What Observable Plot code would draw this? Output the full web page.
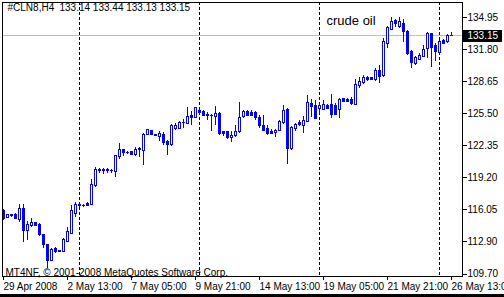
<!DOCTYPE html>
<html><head><meta charset="utf-8">
<script src="https://cdn.jsdelivr.net/npm/d3@7"></script>
<script src="https://cdn.jsdelivr.net/npm/@observablehq/plot@0.6"></script>
<style>html,body{margin:0;padding:0;background:#000;overflow:hidden}#chart svg{display:block}</style>
</head><body><div id="chart"></div><script>
const openP = [115.88,115.23,115.45,115.46,115.04,116.12,113.92,114.38,114.77,114.48,
113.50,112.60,110.97,112.12,111.95,111.85,112.90,113.66,115.63,116.40,
116.35,116.55,116.52,118.32,119.80,119.80,119.95,119.80,119.72,121.20,
121.93,121.65,121.70,121.37,121.86,121.80,123.40,123.73,123.43,123.20,
123.43,122.65,122.38,124.02,124.02,124.55,124.45,125.23,125.08,125.75,
125.67,125.40,125.25,125.17,125.43,123.63,123.63,123.10,123.27,123.63,
125.17,125.67,125.50,125.50,125.08,124.25,123.93,123.70,123.60,123.76,
124.60,125.83,122.00,123.96,124.52,124.25,124.68,126.45,126.22,125.90,
125.89,126.22,126.29,126.22,125.89,126.88,126.85,126.78,126.36,128.16,
128.48,128.97,128.95,128.75,129.73,129.24,132.36,133.74,134.59,134.00,
134.33,133.50,131.54,130.39,130.79,131.11,131.87,133.28,132.10,131.44,
132.62,132.52,133.14];
const highP = [116.05,115.60,115.60,115.66,116.55,116.55,114.87,115.13,114.80,114.70,
113.55,112.65,112.20,112.30,112.00,113.20,114.25,116.45,116.77,116.60,
116.55,116.70,118.97,120.20,120.10,120.10,120.10,120.00,121.40,122.58,
122.00,121.80,121.80,122.20,122.20,123.56,123.90,123.80,123.45,123.76,
123.60,122.80,124.45,124.55,124.68,124.90,126.10,125.73,126.10,125.80,
125.83,125.60,125.40,126.16,125.55,123.70,123.76,123.76,124.29,126.60,
125.75,125.75,125.75,125.67,125.27,125.33,124.35,123.90,123.90,124.85,
126.26,126.00,124.25,124.50,124.85,125.17,127.30,126.85,126.80,126.50,
126.80,126.35,127.37,126.50,126.95,127.00,126.95,127.10,128.85,129.07,
129.20,129.10,129.05,129.90,130.22,132.85,134.07,134.98,134.72,134.98,
134.80,133.70,131.70,131.10,131.40,132.20,133.50,133.40,132.36,132.70,
132.75,133.28,133.44];
const lowP = [114.97,115.15,115.30,115.04,114.80,112.80,112.95,114.30,114.38,113.40,
112.24,110.20,110.90,111.75,111.85,111.80,112.84,113.60,115.30,116.20,
116.20,116.30,116.40,118.25,119.60,119.50,119.55,119.55,119.17,121.00,
121.30,121.45,121.35,121.30,121.20,120.40,123.30,123.40,123.25,122.78,
122.35,121.40,122.30,123.80,123.90,124.00,124.40,124.29,124.98,125.45,
125.17,124.84,123.70,124.35,123.30,123.20,122.95,122.65,123.10,123.53,
125.00,125.17,125.17,124.84,124.00,123.70,123.35,123.40,123.13,123.70,
124.42,120.48,121.85,123.76,124.20,123.53,124.60,125.08,124.95,125.40,
125.80,125.90,124.98,125.30,124.98,126.55,126.60,126.30,126.30,127.93,
128.35,128.65,128.70,128.65,128.42,129.07,131.87,133.70,133.99,133.90,
132.50,131.20,129.90,130.25,130.70,130.98,130.88,130.06,130.60,131.30,
132.30,132.42,133.13];
const closeP = [115.16,115.53,115.48,115.10,116.12,113.92,114.48,114.77,114.42,113.50,
112.60,110.97,112.02,111.85,111.90,113.00,113.82,115.88,116.45,116.45,
116.40,116.40,118.48,119.98,119.95,119.95,119.80,119.82,121.27,121.86,
121.65,121.62,121.45,121.86,122.02,123.40,123.83,123.43,123.27,123.53,
122.55,122.38,124.29,124.25,124.52,124.60,125.17,125.08,126.00,125.50,
125.27,125.23,125.28,125.43,123.46,123.46,123.10,123.30,123.70,125.08,
125.67,125.23,125.27,125.08,124.25,123.80,123.46,123.50,123.80,124.68,
125.73,122.00,124.09,124.35,124.35,124.75,126.49,126.12,124.98,126.20,
126.29,125.96,125.40,125.40,126.78,126.65,126.65,126.39,128.26,128.58,
129.00,128.75,128.78,129.73,129.07,132.52,133.94,134.49,134.33,134.49,
133.50,131.38,130.45,130.95,131.14,131.77,133.28,131.90,131.54,132.52,
132.36,133.08,133.15];
const xTickIdx = [0,16,32,48,64,80,96,112];
const xTickLabels = ["29 Apr 2008","2 May 13:00","7 May 05:00","9 May 21:00","14 May 13:00","19 May 05:00","21 May 21:00","26 May 13:00"];
const separators = [19,49,79,109];
const yTicks = [109.70,112.90,116.05,119.20,122.35,125.50,128.65,131.80,134.95];
const symbolLabel = "#CLN8,H4";
const annotation = "crude oil";
const copyright = "MT4NF, \u00a9 2001-2008 MetaQuotes Software Corp.";

const bars = openP.map((o, i) => ({i, open: o, high: highP[i], low: lowP[i], close: closeP[i]}));
const last = bars[bars.length - 1];
const ohlcText = [last.open, last.high, last.low, last.close].map(v => v.toFixed(2)).join(" ");
const blue = "#0000ff";
const crisp = {shapeRendering: "crispEdges"};

const chart = Plot.plot({
  width: 504, height: 294,
  marginLeft: 2, marginRight: 42, marginTop: 2, marginBottom: 18,
  style: {background: "white", fontFamily: "'Liberation Sans', Arial, sans-serif", fontSize: "10px", color: "black"},
  x: {type: "linear", domain: [-0.25, 114.75]},
  y: {type: "linear", domain: [109.455, 136.426]},
  marks: [
    Plot.ruleY([last.close], {stroke: "#c0c0c0", ...crisp}),
    Plot.ruleX(separators, {stroke: "black", strokeDasharray: "3,2", ...crisp}),
    Plot.ruleX(bars, {x: "i", y1: "low", y2: "high", stroke: blue, ...crisp}),
    Plot.rect(bars, {x1: d => d.i - 0.25, x2: d => d.i + 0.25, y1: "open", y2: "close",
      fill: d => d.close >= d.open ? "white" : blue, stroke: blue, ...crisp}),
    Plot.frame({stroke: "black", ...crisp}),
    Plot.axisY(yTicks, {anchor: "right", tickSize: 4, tickPadding: 1, tickFormat: d => d.toFixed(2), label: null, ...crisp}),
    Plot.axisX(xTickIdx, {anchor: "bottom", tickSize: 4, tickPadding: 2, tickFormat: (d, i) => xTickLabels[i], textAnchor: "start", label: null, ...crisp}),
    Plot.ruleY([last.close], {stroke: "black", strokeWidth: 12, insetLeft: 461, insetRight: -40, ...crisp}),
    Plot.text([last.close], {y: d => d, text: d => d.toFixed(2), frameAnchor: "right", textAnchor: "start", dx: 5, fill: "white"}),
    Plot.text([symbolLabel], {frameAnchor: "top-left", dx: 5, dy: 1}),
    Plot.text([ohlcText], {frameAnchor: "top-left", dx: 57, dy: 1}),
    Plot.text([annotation], {frameAnchor: "top-left", dx: 324, dy: 13, fontSize: 13}),
    Plot.text([copyright], {frameAnchor: "bottom-left", dx: 3, dy: -1})
  ]
});
document.getElementById("chart").append(chart);
</script></body></html>
